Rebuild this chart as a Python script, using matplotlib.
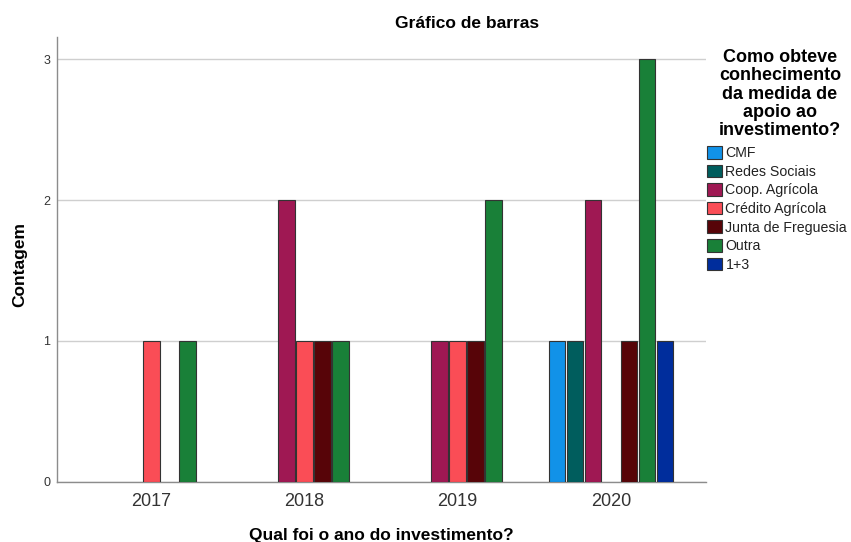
import matplotlib
matplotlib.use("Agg")
import matplotlib.pyplot as plt
import numpy as np

plt.rcParams['font.family'] = ['Liberation Sans', 'DejaVu Sans']

years = ['2017', '2018', '2019', '2020']
series = ['CMF', 'Redes Sociais', 'Coop. Agrícola', 'Crédito Agrícola',
          'Junta de Freguesia', 'Outra', '1+3']
cmf = [0, 0, 0, 1]
redes = [0, 0, 0, 1]
coop = [0, 2, 1, 2]
credito = [1, 1, 1, 0]
junta = [0, 1, 1, 1]
outra = [1, 1, 2, 3]
um_tres = [0, 0, 0, 1]
values = [cmf, redes, coop, credito, junta, outra, um_tres]
colors = ['#1192e8', '#005d5d', '#9f1853', '#fa4d56', '#570408', '#198038', '#002d9c']

W, H = 851, 542
fig = plt.figure(figsize=(W / 100, H / 100), dpi=100)
ax = fig.add_axes([57 / W, 1 - 481.5 / H, (706 - 57) / W, (481.5 - 37.3) / H])

x = np.arange(len(years))
slot = 0.1174
bw = 0.108
handles = []
for i, (name, vals, c) in enumerate(zip(series, values, colors)):
    vals = np.array(vals, dtype=float)
    mask = vals > 0
    pos = x + (i - 3) * slot
    ax.bar(pos[mask], vals[mask], width=bw, color=c, edgecolor='#333333',
           linewidth=0.8, zorder=3)
    handles.append(plt.Rectangle((0, 0), 1, 1, facecolor=c, edgecolor='#333333', linewidth=0.8))

ax.set_xlim(-0.615, 3.62)
ax.set_ylim(0, 3.157)
ax.set_xticks(x)
ax.set_xticklabels(years, fontsize=13, color='#333333')
ax.set_yticks([0, 1, 2, 3])
ax.set_yticklabels(['0', '1', '2', '3'], fontsize=9, color='#333333')
ax.tick_params(axis='both', length=0)
ax.tick_params(axis='x', pad=8)
ax.tick_params(axis='y', pad=5)
ax.grid(axis='y', color='#cfcfcf', linewidth=1, zorder=0)
ax.set_axisbelow(True)
for s in ['top', 'right']:
    ax.spines[s].set_visible(False)
for s in ['left', 'bottom']:
    ax.spines[s].set_color('#8c8c8c')
    ax.spines[s].set_linewidth(1)

fig.text(467 / W, 1 - 24 / H, 'Gráfico de barras', fontsize=12.5, fontweight='bold',
         ha='center', va='center')
fig.text(381.5 / W, 1 - 540 / H, 'Qual foi o ano do investimento?', fontsize=12.5,
         fontweight='bold', ha='center', va='baseline')
fig.text(19.5 / W, 1 - 264 / H, 'Contagem', fontsize=12.5, fontweight='bold',
         ha='center', va='center', rotation=90)

title_lines = ['Como obteve', 'conhecimento', 'da medida de', 'apoio ao', 'investimento?']
for k, line in enumerate(title_lines):
    fig.text(780 / W, 1 - (62 + 18.3 * k) / H, line, fontsize=13, fontweight='bold',
             ha='center', va='baseline')

fig.legend(handles, series, loc='upper left', bbox_to_anchor=(707 / W, 1 - 146 / H),
           bbox_transform=fig.transFigure, frameon=False, fontsize=10.2,
           handlelength=1.05, handleheight=1.0, handletextpad=0.25,
           labelspacing=0.31, borderpad=0, borderaxespad=0, labelcolor='#222222')

fig.savefig('out.png', dpi=100)
